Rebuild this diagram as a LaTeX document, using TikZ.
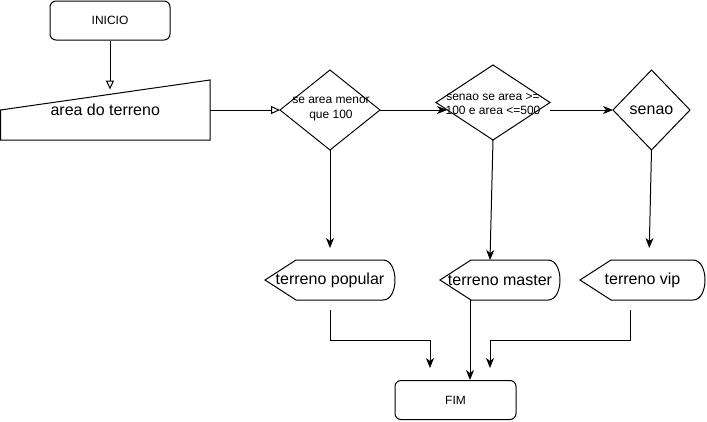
\documentclass[tikz,border=0pt]{standalone}
\usepackage{fontspec}
\setmainfont{Liberation Sans}
\usetikzlibrary{arrows.meta,shapes.geometric,calc}

% outline of a "display" box: pointed left end, rounded right end
\newcommand\dispoutline[1]{%
  \draw (#1.west) -- ($(#1.north west)+(31,0)$) -- ($(#1.north east)+(-12,0)$)
    .. controls +(16,0) and +(16,0) .. ($(#1.south east)+(-12,0)$)
    -- ($(#1.south west)+(31,0)$) -- cycle;}

\begin{document}
\begin{tikzpicture}[x=1pt,y=-1pt,line width=1pt,
  terminal/.style={draw,rounded corners=6pt,minimum width=120pt,minimum height=39pt,
    inner sep=0pt,font=\fontsize{12}{14}\selectfont},
  decision/.style={diamond,draw,inner sep=0pt,outer sep=0pt},
  smalltext/.style={align=center,inner sep=0pt,font=\fontsize{12}{14.5}\selectfont},
  bigtext/.style={align=center,inner sep=0pt,font=\fontsize{16}{19}\selectfont},
  dispbox/.style={minimum height=40pt,inner sep=0pt,outer sep=0pt,font=\fontsize{16}{19}\selectfont},
  openarrow/.style={-{Triangle[open,length=9pt,width=8pt]}},
  solidarrow/.style={-{Stealth[length=10pt,width=8pt,inset=3pt]}}]

\useasboundingbox (0,0) rectangle (707,421);

% start and input
\node[terminal] (start) at (110,20.5) {INICIO};
\node[minimum width=209.5pt,minimum height=60pt,inner sep=0pt,outer sep=0pt,
      font=\fontsize{16}{19}\selectfont] (inp) at (105.25,110) {area do terreno};
\draw (inp.west) -- (inp.north east) -- (inp.south east) -- (inp.south west) -- cycle;

% decisions
\node[decision,minimum width=100pt,minimum height=80pt] (d1) at (330,110) {};
\node[smalltext] at (331,109) {se area menor\\que 100};
\node[decision,minimum width=114pt,minimum height=75pt] (d2) at (493,102.5) {};
\node[smalltext] at (493,104) {senao se area >=\\100 e area <=500};
\node[decision,minimum width=77pt,minimum height=80pt] (d3) at (651.5,110) {};
\node[bigtext] at (651.5,110) {senao};

% results
\node[dispbox,minimum width=130pt] (p) at (330,280) {terreno popular};
\dispoutline{p}
\node[dispbox,minimum width=120pt] (m) at (500,280) {terreno master};
\dispoutline{m}
\node[dispbox,minimum width=125pt] (v) at (642.5,280) {terreno vip};
\dispoutline{v}

% end
\node[terminal,minimum width=121pt] (fim) at (455.5,400) {FIM};

% connector end points
\coordinate (mout) at ($(m.south)+(-30,0)$);
\coordinate (pout) at ($(p.south)+(0,10)$);
\coordinate (vout) at ($(v.south)+(-12.5,10)$);
\coordinate (fimL) at ($(fim.north)+(-25.5,-12)$);
\coordinate (fimR) at ($(fim.north)+(34.5,-12)$);
\coordinate (min) at ($(m.north)+(-10,0)$);
\coordinate (vin) at ($(v.north)+(6.5,0)$);

% connectors
\draw[openarrow] (start.south) -- ++(0,49);
\draw[openarrow] (inp.east) -- (d1.west);
\draw[solidarrow] (d1.east) -- (d1.east -| d2.189);
\draw[solidarrow] (d2.east |- d3.west) -- (d3.west);

\draw[solidarrow,shorten >=12pt] (d1.south) -- (d1.south |- p.north);
\draw[solidarrow] (d2.south) -- (min);
\draw[solidarrow,shorten >=12pt] (d3.south) -- (vin);

\draw[solidarrow] (pout) -- ++(0,30) -| (fimL);
\draw[solidarrow] (mout) -- (mout |- fim.north);
\draw[solidarrow] (vout) -- ++(0,30) -| (fimR);
\end{tikzpicture}
\end{document}
